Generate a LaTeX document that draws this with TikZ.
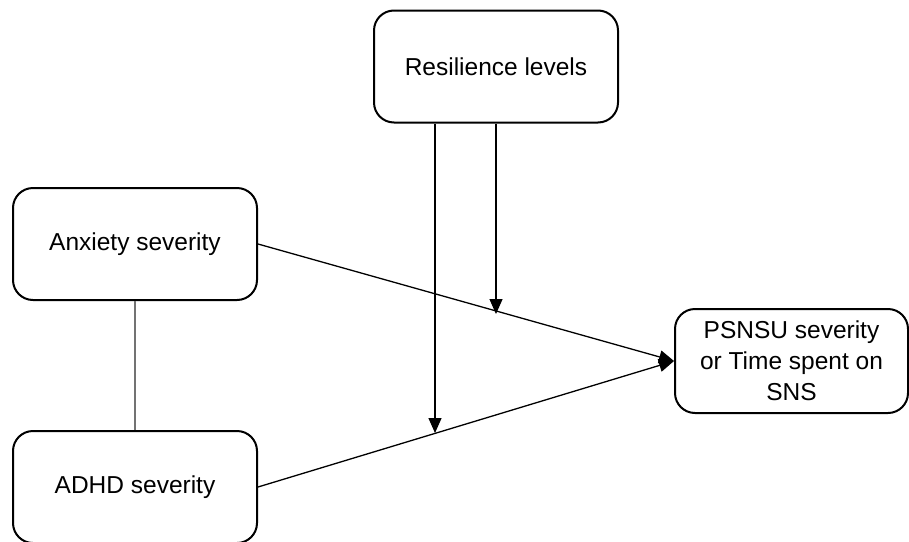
\documentclass[tikz,border=0pt]{standalone}
\usepackage{fontspec}
\setmainfont{Liberation Sans}
\usetikzlibrary{arrows.meta}
\begin{document}
\begin{tikzpicture}[x=1pt,y=-1pt,
  box/.style={draw, line width=2pt, rounded corners=20pt, align=center,
    font=\fontsize{24.5}{31}\selectfont, inner sep=0pt},
  conn/.style={line width=1.3pt},
  arr/.style={line width=1.3pt, -{Triangle[length=15pt,width=13pt]}},
  link/.style={line width=2pt, draw={rgb,255:red,115;green,115;blue,115}}]
\useasboundingbox (0,0) rectangle (909,541);
\node[box, minimum width=244pt, minimum height=112pt] (res) at (496,66.5) {Resilience levels};
\node[box, minimum width=244pt, minimum height=112pt] (anx) at (135,244) {Anxiety severity};
\node[box, minimum width=244pt, minimum height=112pt] (adhd) at (135,487) {ADHD severity};
\node[box, minimum width=233pt, minimum height=104pt] (out) at (791.5,361) {PSNSU severity\\or Time spent on\\SNS};
\draw[arr] (anx.east) -- (out.west);
\draw[arr] (adhd.east) -- (out.west);
\draw[link] (anx.south) -- (adhd.north);
\coordinate (m1) at (435,433);
\coordinate (m2) at (496,314);
\draw[arr] (res.south -| m1) -- (m1);
\draw[arr] (res.south -| m2) -- (m2);
\end{tikzpicture}
\end{document}
